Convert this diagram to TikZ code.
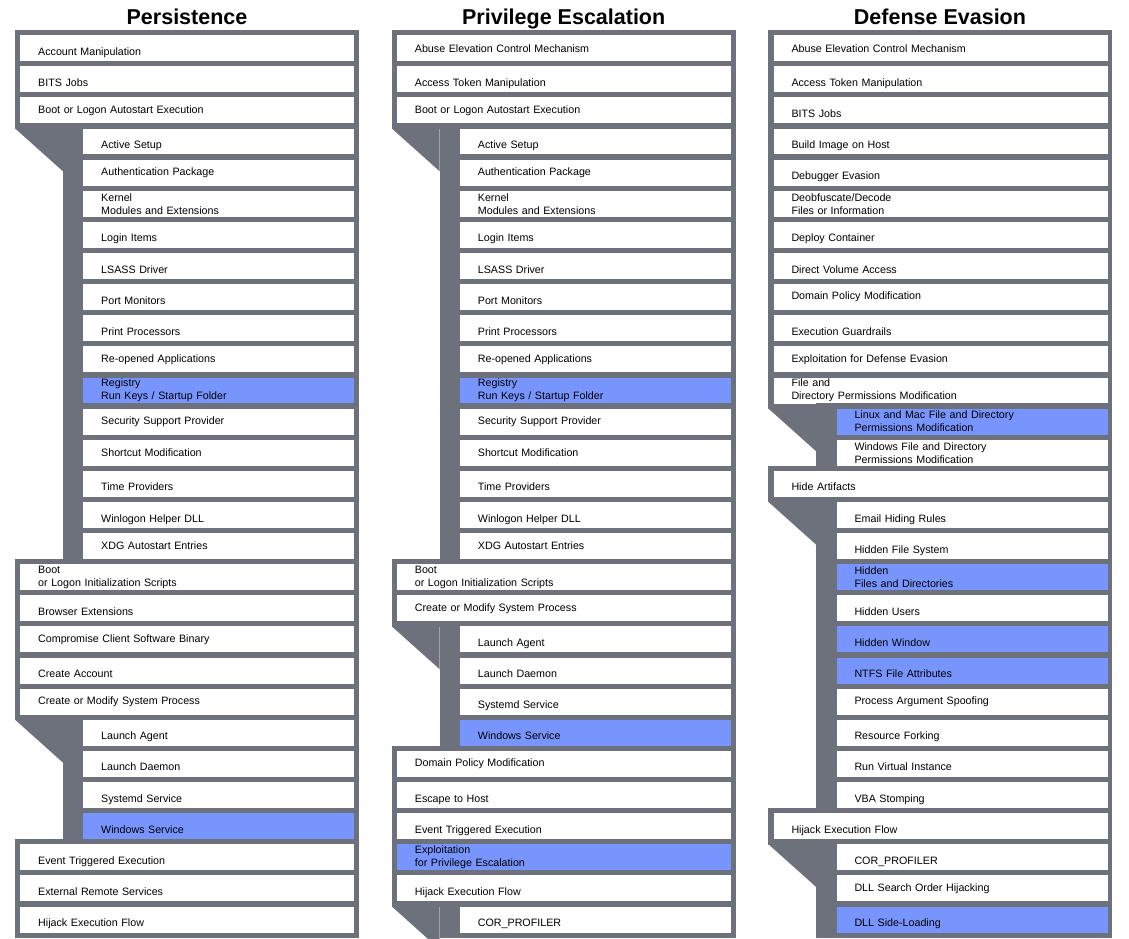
\documentclass[tikz,border=0pt]{standalone}
\usepackage{fontspec}
\setmainfont{Liberation Sans}
\definecolor{techgray}{HTML}{6D717C}
\definecolor{techblue}{HTML}{7895FD}
\newcommand{\techfont}{\fontsize{10.7}{13}\selectfont}
\newcommand{\tacticfont}{\fontsize{21.5}{24}\selectfont\bfseries}
\tikzset{
  tech/.style={anchor=north west, fill=white, inner xsep=18pt, inner ysep=0pt,
    minimum height=26pt, text width=298pt, align=left, font=\techfont},
  subbox/.style={tech, text width=235pt},
  hitbox/.style={fill=techblue},
  low/.style={text height=14pt, text depth=0pt},
  tactic/.style={font=\tacticfont, anchor=base}
}
% #1 name, #2 left edge of column, #3 row, #4 extra style, #5 text
\newcommand{\tech}[5]{%
  \fill[techgray] (#2,{31.12*#3-1.12}) rectangle ({#2+344},{31.12*#3+35.4});
  \node[tech,#4] (#1) at ({#2+5},{31.12*#3+3.88}) {#5};}
\newcommand{\subtech}[5]{%
  \fill[techgray] ({#2+48},{31.12*#3-1.12}) rectangle ({#2+344},{31.12*#3+35.4});
  \node[subbox,#4] (#1) at ({#2+68},{31.12*#3+3.88}) {#5};}
\newcommand{\fork}[2]{%
  \fill[techgray] (#1,{31.12*#2+3.88}) -- ({#1+48},{31.12*#2+3.88}) -- ({#1+48},{31.12*#2+46.88}) -- cycle;}

\begin{document}
\begin{tikzpicture}[x=1pt, y=-1pt]
\useasboundingbox (0,0) rectangle (1129,938);

\node[tactic] (persist) at (187,24) {Persistence};
\node[tactic] (privesc) at (563.7,24) {Privilege Escalation};
\node[tactic] (evasion) at (940,24) {Defense Evasion};

% Persistence
\tech{p1}{15}{1}{low}{Account Manipulation}
\tech{p2}{15}{2}{low}{BITS Jobs}
\tech{p3}{15}{3}{}{Boot or Logon Autostart Execution}
\fork{15}{4}
\subtech{p4}{15}{4}{low}{Active Setup}
\subtech{p5}{15}{5}{}{Authentication Package}
\subtech{p6}{15}{6}{}{Kernel\\Modules and Extensions}
\subtech{p7}{15}{7}{low}{Login Items}
\subtech{p8}{15}{8}{low}{LSASS Driver}
\subtech{p9}{15}{9}{low}{Port Monitors}
\subtech{p10}{15}{10}{low}{Print Processors}
\subtech{p11}{15}{11}{}{Re-opened Applications}
\subtech{p12}{15}{12}{hitbox}{Registry\\Run Keys / Startup Folder}
\subtech{p13}{15}{13}{}{Security Support Provider}
\subtech{p14}{15}{14}{}{Shortcut Modification}
\subtech{p15}{15}{15}{low}{Time Providers}
\subtech{p16}{15}{16}{low}{Winlogon Helper DLL}
\subtech{p17}{15}{17}{}{XDG Autostart Entries}
\tech{p18}{15}{18}{}{Boot\\or Logon Initialization Scripts}
\tech{p19}{15}{19}{low}{Browser Extensions}
\tech{p20}{15}{20}{}{Compromise Client Software Binary}
\tech{p21}{15}{21}{low}{Create Account}
\tech{p22}{15}{22}{}{Create or Modify System Process}
\fork{15}{23}
\subtech{p23}{15}{23}{low}{Launch Agent}
\subtech{p24}{15}{24}{low}{Launch Daemon}
\subtech{p25}{15}{25}{low}{Systemd Service}
\subtech{p26}{15}{26}{hitbox,low}{Windows Service}
\tech{p27}{15}{27}{low}{Event Triggered Execution}
\tech{p28}{15}{28}{low}{External Remote Services}
\tech{p29}{15}{29}{low}{Hijack Execution Flow}

% Privilege Escalation
\tech{e1}{391.7}{1}{}{Abuse Elevation Control Mechanism}
\tech{e2}{391.7}{2}{low}{Access Token Manipulation}
\tech{e3}{391.7}{3}{}{Boot or Logon Autostart Execution}
\fork{391.7}{4}
\subtech{e4}{391.7}{4}{low}{Active Setup}
\subtech{e5}{391.7}{5}{}{Authentication Package}
\subtech{e6}{391.7}{6}{}{Kernel\\Modules and Extensions}
\subtech{e7}{391.7}{7}{low}{Login Items}
\subtech{e8}{391.7}{8}{low}{LSASS Driver}
\subtech{e9}{391.7}{9}{low}{Port Monitors}
\subtech{e10}{391.7}{10}{low}{Print Processors}
\subtech{e11}{391.7}{11}{}{Re-opened Applications}
\subtech{e12}{391.7}{12}{hitbox}{Registry\\Run Keys / Startup Folder}
\subtech{e13}{391.7}{13}{}{Security Support Provider}
\subtech{e14}{391.7}{14}{}{Shortcut Modification}
\subtech{e15}{391.7}{15}{low}{Time Providers}
\subtech{e16}{391.7}{16}{low}{Winlogon Helper DLL}
\subtech{e17}{391.7}{17}{}{XDG Autostart Entries}
\tech{e18}{391.7}{18}{}{Boot\\or Logon Initialization Scripts}
\tech{e19}{391.7}{19}{}{Create or Modify System Process}
\fork{391.7}{20}
\subtech{e20}{391.7}{20}{low}{Launch Agent}
\subtech{e21}{391.7}{21}{low}{Launch Daemon}
\subtech{e22}{391.7}{22}{low}{Systemd Service}
\subtech{e23}{391.7}{23}{hitbox,low}{Windows Service}
\tech{e24}{391.7}{24}{}{Domain Policy Modification}
\tech{e25}{391.7}{25}{low}{Escape to Host}
\tech{e26}{391.7}{26}{low}{Event Triggered Execution}
\tech{e27}{391.7}{27}{hitbox}{Exploitation\\for Privilege Escalation}
\tech{e28}{391.7}{28}{low}{Hijack Execution Flow}
\fork{391.7}{29}
\subtech{e29}{391.7}{29}{low}{COR\_PROFILER}

% Defense Evasion
\tech{d1}{768.3}{1}{}{Abuse Elevation Control Mechanism}
\tech{d2}{768.3}{2}{low}{Access Token Manipulation}
\tech{d3}{768.3}{3}{low}{BITS Jobs}
\tech{d4}{768.3}{4}{low}{Build Image on Host}
\tech{d5}{768.3}{5}{low}{Debugger Evasion}
\tech{d6}{768.3}{6}{}{Deobfuscate/Decode\\Files or Information}
\tech{d7}{768.3}{7}{low}{Deploy Container}
\tech{d8}{768.3}{8}{low}{Direct Volume Access}
\tech{d9}{768.3}{9}{}{Domain Policy Modification}
\tech{d10}{768.3}{10}{low}{Execution Guardrails}
\tech{d11}{768.3}{11}{}{Exploitation for Defense Evasion}
\tech{d12}{768.3}{12}{}{File and\\Directory Permissions Modification}
\fork{768.3}{13}
\subtech{d13}{768.3}{13}{hitbox}{Linux and Mac File and Directory\\Permissions Modification}
\subtech{d14}{768.3}{14}{}{Windows File and Directory\\Permissions Modification}
\tech{d15}{768.3}{15}{low}{Hide Artifacts}
\fork{768.3}{16}
\subtech{d16}{768.3}{16}{low}{Email Hiding Rules}
\subtech{d17}{768.3}{17}{low}{Hidden File System}
\subtech{d18}{768.3}{18}{hitbox}{Hidden\\Files and Directories}
\subtech{d19}{768.3}{19}{low}{Hidden Users}
\subtech{d20}{768.3}{20}{hitbox,low}{Hidden Window}
\subtech{d21}{768.3}{21}{hitbox,low}{NTFS File Attributes}
\subtech{d22}{768.3}{22}{}{Process Argument Spoofing}
\subtech{d23}{768.3}{23}{low}{Resource Forking}
\subtech{d24}{768.3}{24}{low}{Run Virtual Instance}
\subtech{d25}{768.3}{25}{low}{VBA Stomping}
\tech{d26}{768.3}{26}{low}{Hijack Execution Flow}
\fork{768.3}{27}
\subtech{d27}{768.3}{27}{low}{COR\_PROFILER}
\subtech{d28}{768.3}{28}{}{DLL Search Order Hijacking}
\subtech{d29}{768.3}{29}{hitbox,low}{DLL Side-Loading}
\end{tikzpicture}
\end{document}
